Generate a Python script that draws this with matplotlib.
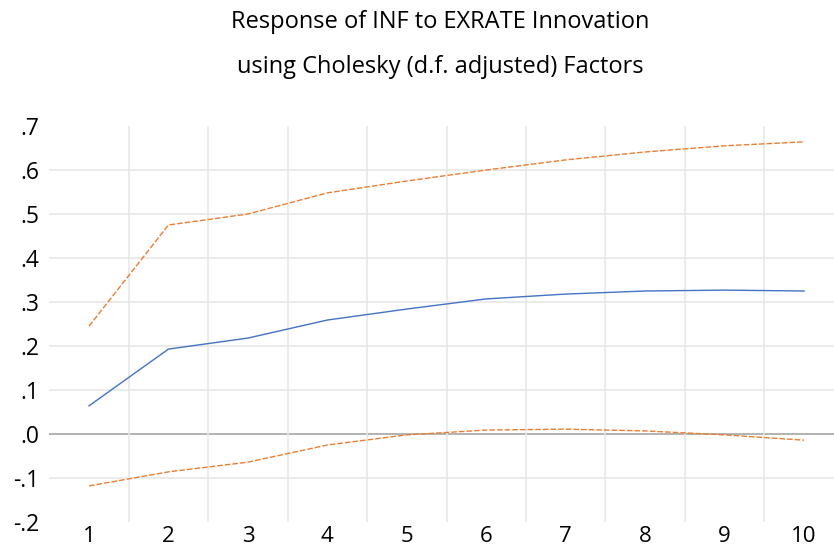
import matplotlib.pyplot as plt
import numpy as np

# Impulse response of INF to an EXRATE shock, with +/- 2 S.E. bands
periods = np.arange(1, 11)
response = [0.064, 0.193, 0.218, 0.259, 0.284, 0.307, 0.318, 0.325, 0.327, 0.325]
upper_band = [0.245, 0.475, 0.500, 0.548, 0.575, 0.600, 0.623, 0.641, 0.655, 0.664]
lower_band = [-0.118, -0.086, -0.064, -0.025, -0.002, 0.009, 0.011, 0.007, -0.002, -0.014]

y_ticks = [-0.2, -0.1, 0.0, 0.1, 0.2, 0.3, 0.4, 0.5, 0.6, 0.7]
y_labels = ['-.2', '-.1', '.0', '.1', '.2', '.3', '.4', '.5', '.6', '.7']

plt.rcParams['font.family'] = ['Open Sans', 'DejaVu Sans']

W, H = 834, 553
fig = plt.figure(figsize=(W / 100, H / 100), dpi=100)
# axes box in pixel coordinates (right edge runs off the image like the original)
left, right, top, bottom = 49, 834, 126, 522
ax = fig.add_axes([left / W, 1 - bottom / H, (right - left) / W, (bottom - top) / H])

ax.plot(periods, upper_band, color='#ED7D31', lw=1.0, ls=(0, (4, 1.5)), zorder=3)
ax.plot(periods, lower_band, color='#ED7D31', lw=1.0, ls=(0, (4, 1.5)), zorder=3)
ax.plot(periods, response, color='#4472C4', lw=1.0, zorder=3)

# grid: horizontal at inner ticks, vertical between periods
for y in y_ticks[1:-1]:
    if y == 0.0:
        ax.axhline(y, color='#A6A6A6', lw=1.2, zorder=1)
    else:
        ax.axhline(y, color='#E6E6E6', lw=1.1, zorder=1)
for x in np.arange(1.5, 10.5, 1.0):
    ax.axvline(x, color='#E6E6E6', lw=1.1, zorder=1)

step = (804 - 89) / 9
ax.set_xlim(1 - (89 - left) / step, 10 + (right - 804) / step)
ax.set_ylim(-0.2, 0.7)
ax.set_xticks(periods)
ax.set_xticklabels([str(p) for p in periods], fontsize=16)
ax.set_yticks(y_ticks)
ax.set_yticklabels(y_labels, fontsize=16.5)
ax.tick_params(axis='y', length=0, pad=7)
ax.tick_params(axis='x', length=0, pad=3)
for s in ax.spines.values():
    s.set_visible(False)

fig.text(440 / W, 1 - 22 / H, 'Response of INF to EXRATE Innovation',
         ha='center', va='center', fontsize=17)
fig.text(440 / W, 1 - 67 / H, 'using Cholesky (d.f. adjusted) Factors',
         ha='center', va='center', fontsize=17)

fig.savefig('out.png', dpi=100)
